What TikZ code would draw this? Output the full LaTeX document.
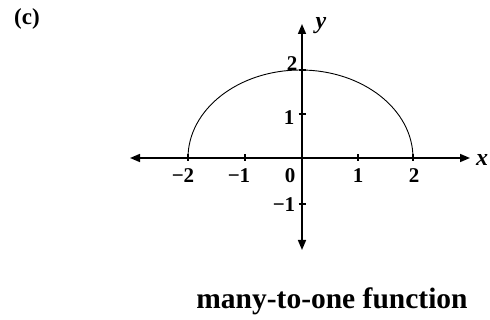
\documentclass[tikz,border=0pt]{standalone}
\usepackage{fontspec}
\setmainfont{Liberation Serif}
\usetikzlibrary{arrows.meta}
\begin{document}
\begin{tikzpicture}[x=1pt,y=-1pt,
  axis/.style={line width=1.6pt,{Triangle[length=10pt,width=8pt]}-{Triangle[length=10pt,width=8pt]}},
  tick/.style={line width=1.1pt},
  curve/.style={line width=0.9pt},
  lab/.style={font=\fontsize{21}{21}\selectfont\bfseries,inner sep=0pt},
  axlab/.style={font=\fontsize{24}{24}\selectfont\bfseries\itshape,inner sep=0pt}]
\useasboundingbox (0,0) rectangle (490,320);
\coordinate (O) at (302,158);
\coordinate (xl) at (130,158);
\coordinate (xr) at (470,158);
\coordinate (yt) at (302,24);
\coordinate (yb) at (302,250);
\draw[axis] (xl) -- (xr);
\draw[axis] (yb) -- (yt);
\foreach \t in {188,245,358,413} \draw[tick] (\t,154.5) -- (\t,161.5);
\foreach \t in {70,114,204} \draw[tick] (298.5,\t) -- (305.5,\t);
\coordinate (L) at (188,158);
\draw[curve] (L) arc[start angle=180,end angle=0,x radius=112.5pt,y radius=88pt];
\node[lab] (m2) at (183,176) {\textminus2};
\node[lab] (m1) at (239,176) {\textminus1};
\node[lab] (z) at (290,176) {0};
\node[lab] (p1) at (358,176) {1};
\node[lab] (p2) at (414,176) {2};
\node[lab] (y2) at (292,64) {2};
\node[lab] (y1) at (289,118) {1};
\node[lab] (ym1) at (284,205) {\textminus1};
\node[axlab] (xlab) at (482,160) {x};
\node[axlab] (ylab) at (321,26) {y};
\node[font=\fontsize{23}{23}\selectfont\bfseries,inner sep=0pt] (c) at (27,19) {(c)};
\node[font=\fontsize{29.5}{29.5}\selectfont\bfseries,inner sep=0pt] (cap) at (332,301) {many-to-one function};
\end{tikzpicture}
\end{document}
